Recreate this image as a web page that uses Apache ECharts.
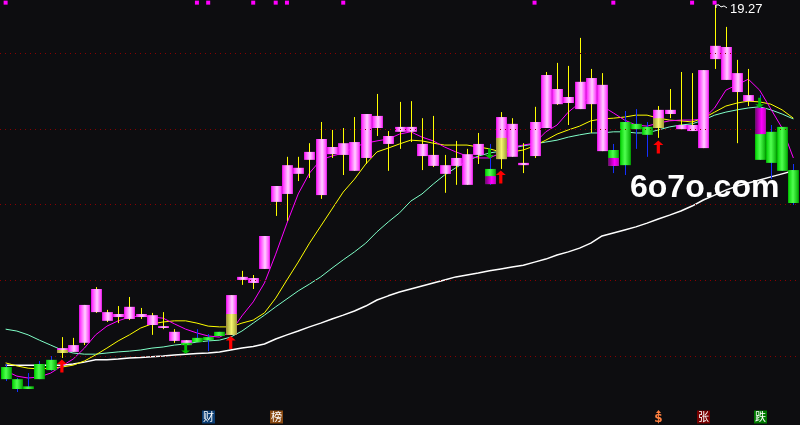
<!DOCTYPE html>
<html>
<head>
<meta charset="utf-8">
<script src="https://cdn.jsdelivr.net/npm/echarts@6/dist/echarts.min.js"></script>
<style>
  html, body { margin: 0; padding: 0; background: #0d0d10; }
  #chart { width: 800px; height: 425px; }
</style>
</head>
<body>
<div id="chart"></div>
<script>
// daily bars: [open, close, low, high]
const candles = [
  [9.71,9.39,9.34,9.79], [9.39,9.13,9.05,9.42], [9.20,9.13,9.13,9.55], [9.79,9.39,9.39,9.87],
  [9.90,9.63,9.61,10.00], [10.08,10.21,9.95,10.50], [10.11,10.29,10.11,10.48], [10.35,11.35,10.29,11.35],
  [11.16,11.77,11.14,11.82], [10.93,11.16,10.90,11.22], [11.03,11.11,10.87,11.32], [10.98,11.30,10.95,11.56],
  [11.03,11.11,10.98,11.27], [10.82,11.08,10.56,11.14], [10.74,10.79,10.71,11.16], [10.40,10.64,10.35,10.71],
  [10.29,10.42,10.29,10.42], [10.48,10.37,10.37,10.71], [10.50,10.42,10.13,10.58], [10.64,10.53,10.53,10.64],
  [10.56,11.61,10.56,11.61], [12.01,12.09,11.88,12.25], [11.93,12.06,11.77,12.14], [12.30,13.17,12.30,13.17],
  [14.07,14.49,13.70,14.49], [14.28,15.04,13.57,15.26], [14.81,14.97,14.62,15.26], [15.18,15.39,14.70,15.62],
  [14.25,15.73,14.15,16.18], [15.33,15.52,15.23,15.97], [15.31,15.62,14.78,16.02], [14.89,15.65,14.89,16.31],
  [15.23,16.39,15.07,16.39], [16.02,16.34,15.81,16.92], [15.60,15.81,14.89,15.94], [15.92,16.05,15.47,16.71],
  [15.92,16.05,15.65,16.73], [15.28,15.60,14.91,16.28], [15.02,15.31,14.99,16.34], [14.81,15.04,14.31,15.31],
  [15.02,15.23,14.52,15.68], [14.52,15.33,14.52,15.47], [15.31,15.60,15.07,15.89], [14.94,14.54,14.52,15.60],
  [15.20,16.31,14.94,16.44], [15.26,16.13,15.26,16.28], [15.04,15.10,14.83,15.62], [15.28,16.18,15.23,16.58],
  [16.02,17.42,16.02,17.50], [16.65,17.05,16.63,17.74], [16.68,16.84,16.10,17.66], [16.52,17.24,16.52,18.40],
  [16.65,17.34,15.89,17.58], [15.41,17.16,15.41,17.47], [15.44,15.02,14.83,15.60], [16.18,15.04,14.78,16.47],
  [16.13,15.99,15.47,16.52], [16.05,15.84,15.26,16.18], [16.02,16.50,15.76,16.60], [16.39,16.50,16.28,17.05],
  [15.99,16.10,15.99,17.50], [15.94,16.10,15.94,17.47], [15.49,17.55,15.49,17.55], [17.84,18.19,17.58,19.27],
  [17.29,18.16,17.29,18.69], [16.97,17.47,15.62,17.82], [16.73,16.89,16.60,17.58], [16.55,15.18,15.18,16.89],
  [15.92,15.10,14.67,16.10], [16.05,14.89,14.89,16.05], [14.91,14.04,13.99,15.07]
];
const days = candles.map((_, i) => String(i + 1));

const ma5 = [9.61,9.47,9.42,9.45,9.55,9.74,9.92,10.21,10.56,10.79,
  10.93,11.03,11.06,11.03,11.00,10.85,10.71,10.61,10.53,10.50,
  10.64,11.06,11.43,11.93,12.69,13.51,14.28,14.83,15.18,15.28,
  15.36,15.52,15.62,15.68,15.73,15.86,15.92,15.78,15.68,15.52,
  15.39,15.28,15.23,15.23,15.36,15.52,15.57,15.62,15.92,16.10,
  16.44,16.68,16.81,16.60,16.42,16.23,16.10,16.07,16.15,16.21,
  16.23,16.23,16.26,16.55,17.02,17.16,17.31,17.02,16.52,16.02,15.23];
const ma10 = [9.82,9.74,9.68,9.66,9.68,9.71,9.76,9.87,10.03,10.21,
  10.40,10.56,10.74,10.85,10.90,10.93,10.93,10.87,10.79,10.77,
  10.77,10.87,10.95,11.14,11.53,12.01,12.48,12.98,13.43,13.88,
  14.33,14.67,15.07,15.39,15.49,15.60,15.70,15.68,15.62,15.57,
  15.57,15.57,15.52,15.47,15.39,15.39,15.44,15.55,15.70,15.86,
  15.97,16.07,16.21,16.26,16.28,16.31,16.36,16.36,16.28,16.23,
  16.21,16.18,16.28,16.44,16.60,16.68,16.73,16.71,16.65,16.50,16.28];
const ma20 = [10.71,10.66,10.56,10.42,10.29,10.16,10.08,10.05,10.05,10.08,
  10.11,10.13,10.16,10.21,10.24,10.29,10.32,10.37,10.40,10.42,
  10.50,10.66,10.87,11.08,11.30,11.51,11.72,11.90,12.09,12.32,
  12.54,12.75,12.98,13.28,13.54,13.78,14.09,14.28,14.54,14.78,
  14.97,15.15,15.28,15.36,15.41,15.49,15.55,15.60,15.65,15.70,
  15.78,15.84,15.89,15.89,15.92,15.92,15.89,15.89,15.97,16.05,
  16.10,16.13,16.23,16.36,16.44,16.50,16.55,16.58,16.50,16.39,16.26];
const ma60 = [9.76,9.76,9.76,9.76,9.76,9.76,9.79,9.84,9.90,9.90,
  9.92,9.95,9.96,9.98,10.00,10.03,10.05,10.07,10.08,10.11,
  10.16,10.21,10.25,10.32,10.45,10.56,10.66,10.77,10.87,10.98,
  11.08,11.19,11.32,11.48,11.59,11.69,11.77,11.85,11.93,12.01,
  12.09,12.14,12.19,12.25,12.30,12.35,12.40,12.48,12.56,12.67,
  12.75,12.85,12.98,13.17,13.25,13.33,13.41,13.51,13.62,13.72,
  13.83,13.96,14.12,14.25,14.38,14.49,14.57,14.65,14.73,14.81,14.89];

// split-colour parts of some bodies: [day, top, bottom, kind]
const overlays = [
  [5,10.16,10.08,'y'], [16,10.35,10.29,'g'], [20,11.11,10.56,'y'], [43,14.75,14.54,'m'],
  [44,15.76,15.20,'y'], [54,15.23,15.02,'m'], [58,16.28,16.02,'y'], [67,16.55,15.86,'m']
];
const buyArrows = [[5,9.74], [20,10.36], [44,14.73], [58,15.52]];
const sellArrows = [[16,10.19], [43,15.35], [67,16.69]];
const topMarks = [0,17,18,22,24,25,30,47,54,61,63];
const priceLines = [10, 12, 14, 16, 18];
// bottom event icons: [day, glyph, background]
const icons = [
  [18,'财','#0b3d73'], [24,'榜','#8a4a12'], [58,'$',''], [62,'张','#7a0000'], [67,'跌','#007a00']
];
const iconLevel = 8.38;
const peak = [63, 19.27];

const grad = (stops) => new echarts.graphic.LinearGradient(0, 0, 1, 0,
  stops.map(([o, c]) => ({ offset: o, color: c })));
const fills = {
  p: grad([[0,'#ff10ff'],[0.55,'#ffd0ff'],[1,'#ff20ff']]),
  g: grad([[0,'#00d000'],[0.45,'#50ff50'],[1,'#00a800']]),
  y: grad([[0,'#9a9a30'],[0.5,'#f4f470'],[1,'#a0a030']]),
  m: grad([[0,'#700070'],[0.6,'#ff00ff'],[1,'#c000c0']])
};

function renderCandle(params, api) {
  const i = api.value(0);
  const o = api.value(1), c = api.value(2), l = api.value(3), h = api.value(4);
  const up = c >= o;
  const pO = api.coord([i, o]), pC = api.coord([i, c]);
  const yL = api.coord([i, l])[1], yH = api.coord([i, h])[1];
  const x = Math.round(pO[0]) + 0.5;
  const w = api.size([1, 0])[0] * 0.96;
  const top = Math.min(pO[1], pC[1]);
  const hgt = Math.max(Math.abs(pO[1] - pC[1]), 1.5);
  return { type: 'group', children: [
    { type: 'line', shape: { x1: x, y1: yH, x2: x, y2: yL },
      style: { stroke: up ? '#ffff00' : '#1430ff', lineWidth: 1 } },
    { type: 'rect', shape: { x: x - w / 2, y: top, width: w, height: hgt },
      style: { fill: up ? fills.p : fills.g } }
  ] };
}

function renderOverlay(params, api) {
  const i = api.value(0);
  const t = api.coord([i, api.value(1)]), b = api.coord([i, api.value(2)]);
  const x = Math.round(t[0]) + 0.5;
  const w = api.size([1, 0])[0] * 0.96;
  return { type: 'rect', shape: { x: x - w / 2, y: t[1], width: w, height: b[1] - t[1] },
    style: { fill: fills[overlays[params.dataIndex][3]] } };
}

function renderIcon(params, api) {
  const [, glyph, bg] = icons[params.dataIndex];
  const p = api.coord([api.value(0), api.value(1)]);
  const x = Math.round(p[0]) + 0.5, y = Math.round(p[1]);
  if (!bg) {
    return { type: 'group', children: [
      { type: 'polygon', shape: { points: [[x - 2.5, y - 4], [x + 2.5, y - 4], [x, y - 7]] },
        style: { fill: '#ff8040' } },
      { type: 'text', style: { text: glyph, x: x, y: y + 2, align: 'center', verticalAlign: 'middle',
        fill: '#ff8040', font: 'bold 12px "DejaVu Sans", sans-serif' } }
    ] };
  }
  return { type: 'group', children: [
    { type: 'rect', shape: { x: x - 6.5, y: y - 6.5, width: 13, height: 13 }, style: { fill: bg } },
    { type: 'text', style: { text: glyph, x: x, y: y, align: 'center', verticalAlign: 'middle',
      fill: '#ffffff', font: '11px "Noto Sans CJK SC", sans-serif' } }
  ] };
}

function renderPeak(params, api) {
  const p = api.coord([api.value(0), api.value(1)]);
  const x = Math.round(p[0]) + 1, y = p[1];
  return { type: 'group', children: [
    { type: 'polyline', shape: { points: [[x, y + 3], [x, y], [x + 3, y], [x + 5, y + 2], [x + 8, y + 1], [x + 11, y + 3]] },
      style: { stroke: '#ffffff', lineWidth: 1, fill: null } },
    { type: 'text', style: { text: api.value(1).toFixed(2), x: x + 14, y: y + 4,
      verticalAlign: 'middle', fill: '#ffffff', font: '13px "Liberation Sans Narrow", "Liberation Sans", sans-serif' } }
  ] };
}

const maLine = (name, data, color, width, z) => ({
  name, type: 'line', data, symbol: 'none', silent: true, z,
  lineStyle: { color, width }
});

const arrowPath = 'path://M5,0 L10,4.5 L6.6,4.5 L6.6,13 L3.4,13 L3.4,4.5 L0,4.5 Z';

const chart = echarts.init(document.getElementById('chart'));
chart.setOption({
  backgroundColor: '#0d0d10',
  animation: false,
  grid: { left: -3, right: 1, top: 0, bottom: 0 },
  xAxis: { type: 'category', data: days, show: false, boundaryGap: true },
  yAxis: { type: 'value', min: 8.18, max: 19.40, show: false, splitLine: { show: false } },
  graphic: [{
    type: 'text', left: 630, top: 172, z: 1,
    style: { text: '6o7o.com', font: 'bold 32px "Liberation Sans", Arial, sans-serif', fill: '#ffffff' }
  }],
  series: [
    Object.assign(maLine('MA60', ma60, '#ffffff', 1.5, 2), {
      markLine: {
        silent: true, symbol: 'none', label: { show: false },
        lineStyle: { color: '#8a0000', type: [1, 4], width: 1 },
        data: priceLines.map(v => ({ yAxis: v }))
      }
    }),
    maLine('MA20', ma20, '#80ffc8', 1, 2),
    maLine('MA10', ma10, '#ffff00', 1, 2),
    maLine('MA5', ma5, '#ff00ff', 1, 2),
    {
      type: 'custom', name: 'K', z: 4, silent: true,
      renderItem: renderCandle,
      encode: { x: 0, y: [1, 2, 3, 4] },
      data: candles.map((c, i) => [i].concat(c))
    },
    {
      type: 'custom', name: 'split', z: 5, silent: true,
      renderItem: renderOverlay,
      encode: { x: 0, y: [1, 2] },
      data: overlays.map(o => [o[0], o[1], o[2]])
    },
    {
      type: 'scatter', z: 6, silent: true, symbol: arrowPath, symbolSize: [10, 13],
      itemStyle: { color: '#ff0000', opacity: 1 }, data: buyArrows
    },
    {
      type: 'scatter', z: 6, silent: true, symbol: arrowPath, symbolSize: [9, 10], symbolRotate: 180,
      itemStyle: { color: '#00c000', opacity: 1 }, data: sellArrows
    },
    {
      type: 'scatter', z: 6, silent: true, symbol: 'rect', symbolSize: [4, 4],
      itemStyle: { color: '#ff00ff', opacity: 1 }, data: topMarks.map(i => [i, 19.33])
    },
    {
      type: 'custom', name: 'icons', z: 6, silent: true,
      renderItem: renderIcon,
      encode: { x: 0, y: 1 },
      data: icons.map(c => [c[0], iconLevel])
    },
    {
      type: 'custom', name: 'peak', z: 6, silent: true,
      renderItem: renderPeak,
      encode: { x: 0, y: 1 },
      data: [peak]
    }
  ]
});
</script>
</body>
</html>
